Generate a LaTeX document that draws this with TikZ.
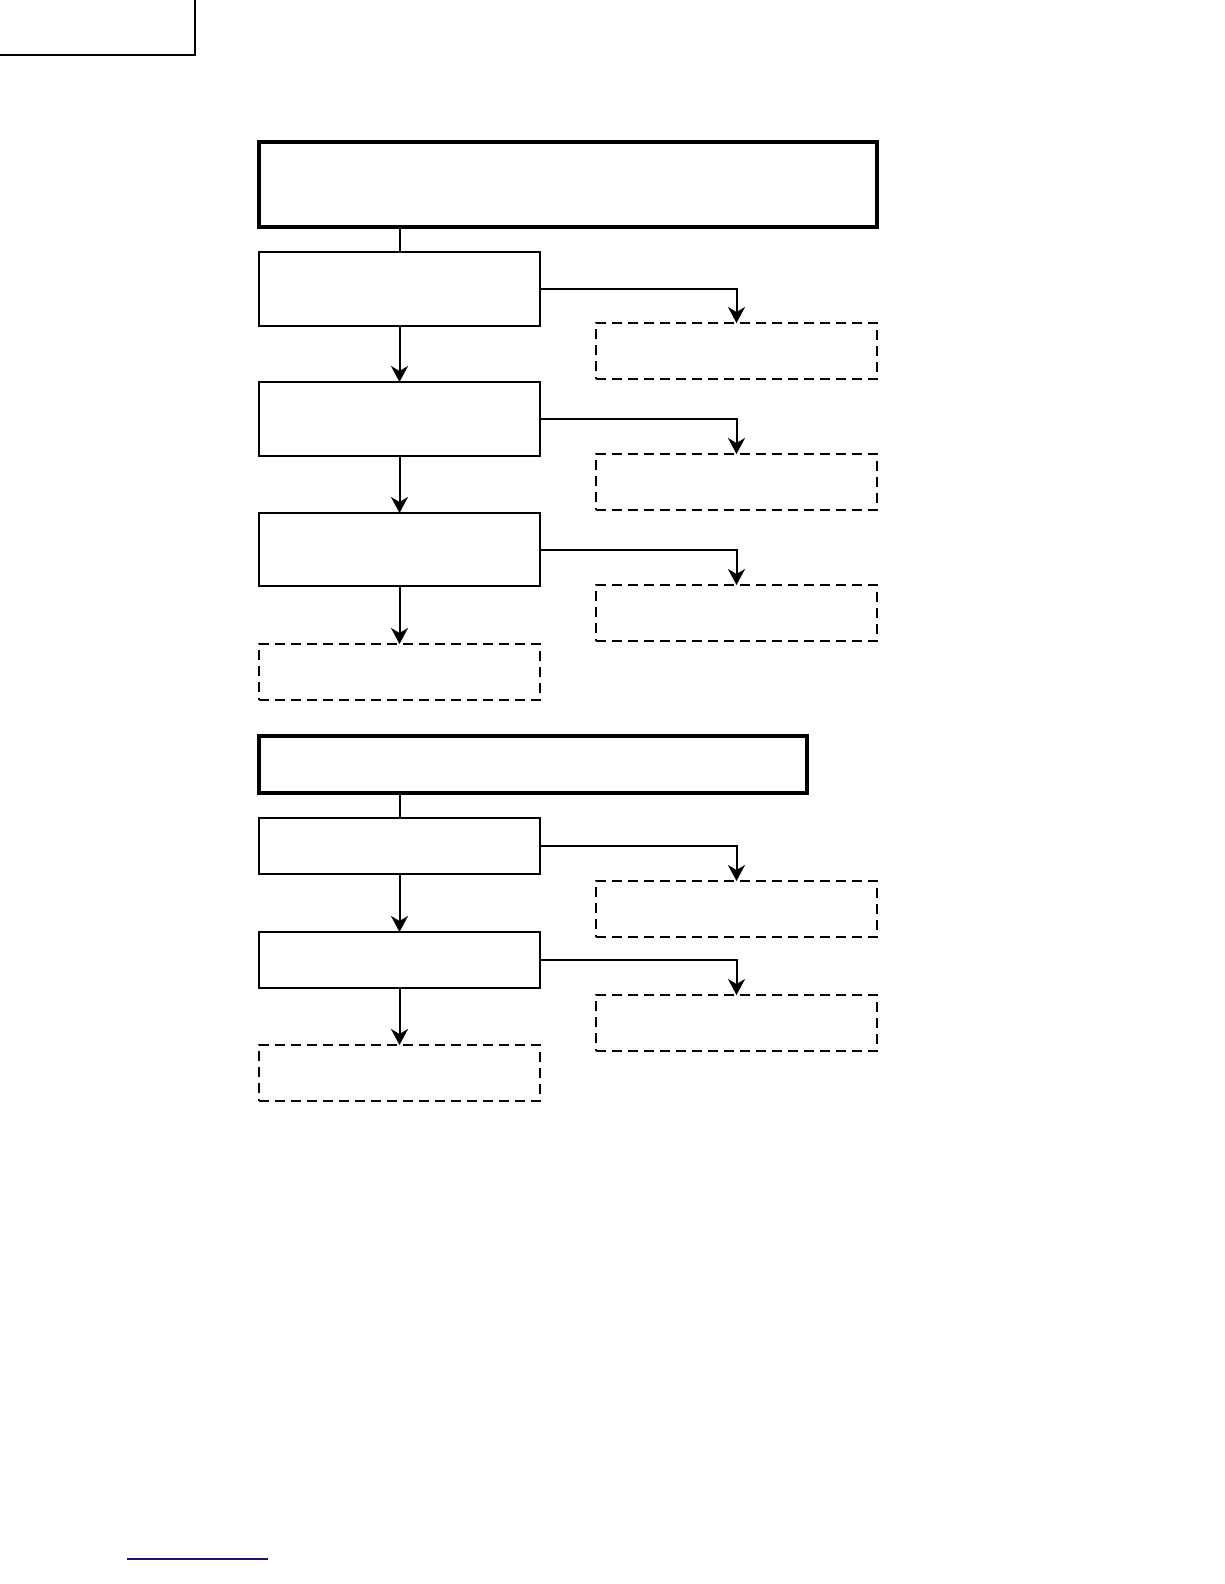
\documentclass[tikz,border=0pt]{standalone}
\usetikzlibrary{arrows.meta}
\begin{document}
\begin{tikzpicture}[x=1pt,y=1pt]
      \tikzset{every node/.style={draw=black, rectangle, inner sep=0pt, outer sep=0pt, anchor=north west},
        titlebox/.style={line width=4pt},
        stepbox/.style={line width=2pt, minimum width=281pt},
        outbox/.style={line width=2pt, dash pattern=on 10pt off 6pt, minimum width=281pt, minimum height=56pt},
        flow/.style={line width=2pt, -{Stealth[length=16pt,width=17pt,inset=5pt]}}}
      \path[use as bounding box] (0,0) rectangle (1224,-1584);
      % page tab and link
      \draw[line width=2pt] (-5,-55) coordinate (tabL) -| (195,5) coordinate (tabR);
      \draw[line width=2pt, draw={rgb,255:red,20;green,20;blue,110}] (127,-1559) -- (268,-1559);

      % first group
      \node[titlebox, minimum width=618pt, minimum height=85pt] (T1) at (259,-142) {};
      \node[stepbox, minimum height=74pt] (A1) at (259,-252) {};
      \node[stepbox, minimum height=74pt] (A2) at (259,-382) {};
      \node[stepbox, minimum height=73pt] (A3) at (259,-513) {};
      \node[outbox] (D1) at (596,-323) {};
      \node[outbox] (D2) at (596,-454) {};
      \node[outbox] (D3) at (596,-585) {};
      \node[outbox] (D4) at (259,-644) {};
      \draw[line width=2pt] (T1.south -| A1.north) -- (A1.north);
      \draw[flow] (A1.south) -- (A2.north);
      \draw[flow] (A2.south) -- (A3.north);
      \draw[flow] (A3.south) -- (D4.north);
      \draw[flow] (A1.east) -| (D1.north);
      \draw[flow] (A2.east) -| (D2.north);
      \draw[flow] (A3.east) -| (D3.north);

      % second group
      \node[titlebox, minimum width=548pt, minimum height=57pt] (T2) at (259,-736) {};
      \node[stepbox, minimum height=56pt] (B1) at (259,-818) {};
      \node[stepbox, minimum height=56pt] (B2) at (259,-932) {};
      \node[outbox] (D5) at (596,-881) {};
      \node[outbox] (D6) at (596,-995) {};
      \node[outbox] (D7) at (259,-1045) {};
      \draw[line width=2pt] (T2.south -| B1.north) -- (B1.north);
      \draw[flow] (B1.south) -- (B2.north);
      \draw[flow] (B2.south) -- (D7.north);
      \draw[flow] (B1.east) -| (D5.north);
      \draw[flow] (B2.east) -| (D6.north);
    \end{tikzpicture}
\end{document}
